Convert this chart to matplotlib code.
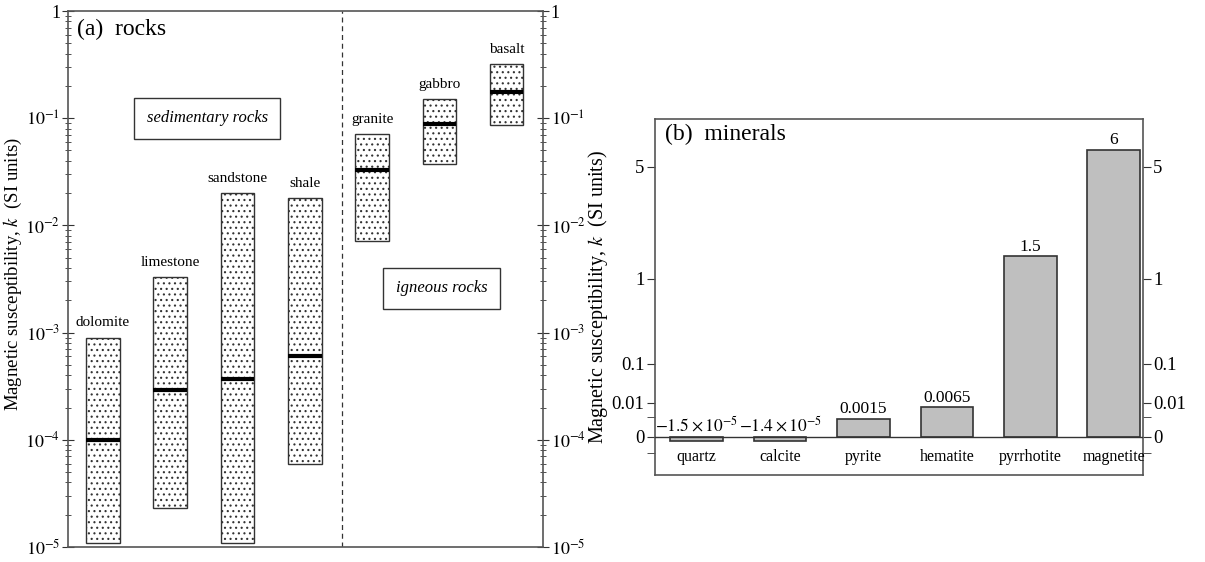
import numpy as np
import matplotlib.pyplot as plt
from matplotlib.ticker import FixedLocator, NullFormatter, FuncFormatter

plt.rcParams['font.family'] = ['Liberation Serif', 'DejaVu Serif']
plt.rcParams['mathtext.fontset'] = 'stix'
plt.rcParams['hatch.linewidth'] = 0.8
plt.rcParams['hatch.color'] = '#6a6a6a'

# (a) rocks: range and typical value of k
rocks = ['dolomite', 'limestone', 'sandstone', 'shale', 'granite', 'gabbro', 'basalt']
k_low = [1.1e-5, 2.3e-5, 1.1e-5, 6e-5, 7.1e-3, 0.037, 0.086]
k_high = [9e-4, 3.3e-3, 0.02, 0.018, 0.071, 0.15, 0.32]
k_typ = [1e-4, 2.9e-4, 3.7e-4, 6e-4, 0.033, 0.088, 0.175]

# (b) minerals
minerals = ['quartz', 'calcite', 'pyrite', 'hematite', 'pyrrhotite', 'magnetite']
k_min = [-1.5e-5, -1.4e-5, 0.0015, 0.0065, 1.5, 6]
k_min_labels = [r'$-1.5\times10^{-5}$', r'$-1.4\times10^{-5}$', '0.0015', '0.0065', '1.5', '6']
b_ticks = [0, 0.01, 0.1, 1, 5]
b_ticklabels = ['0', '0.01', '0.1', '1', '5']

edge = '#333333'
ylab = r'Magnetic susceptibility, $k$  (SI units)'


def log_fmt(v, pos):
    e = int(round(np.log10(v)))
    if e == 0:
        return '1'
    return r'$10^{%d}$' % e


fig = plt.figure(figsize=(12.05, 5.62), dpi=100)

# ---------- panel (a)
ax = fig.add_axes([0.0564, 0.0267, 0.3942, 0.9537])
x = np.arange(1, len(rocks) + 1)
low = np.array(k_low)
high = np.array(k_high)
ax.bar(x, high - low, bottom=low, width=0.5, facecolor='white',
       edgecolor=edge, hatch='...', linewidth=1.0, zorder=2)
ax.hlines(k_typ, x - 0.25, x + 0.25, colors='black', linewidth=3, zorder=3)
for xi, hi, name in zip(x, k_high, rocks):
    ax.annotate(name, (xi, hi), xytext=(0, 6), textcoords='offset points',
                ha='center', va='bottom', fontsize=11)
ax.axvline(4.55, color=edge, linestyle='--', linewidth=0.9, dashes=(4, 3))
ax.set_yscale('log')
ax.set_ylim(1e-5, 1)
ax.set_xlim(0.48, 7.54)
ax.set_xticks([])
ax.yaxis.set_major_formatter(FuncFormatter(log_fmt))
ax.tick_params(axis='y', which='both', direction='inout', right=True,
               labelright=True, labelsize=13, pad=1.5, color='#333333')
ax.tick_params(axis='y', which='major', length=8)
ax.tick_params(axis='y', which='minor', length=4)
ax.set_ylabel(ylab, fontsize=13.5)
ax.yaxis.set_label_coords(-0.092, 0.51)
ax.text(0.02, 0.985, '(a)  rocks', transform=ax.transAxes, va='top',
        ha='left', fontsize=17)
ax.text(2.55, 0.1, 'sedimentary rocks', style='italic', fontsize=12,
        ha='center', va='center',
        bbox=dict(boxstyle='square,pad=0.75', fc='white', ec=edge, lw=1.0))
ax.text(6.03, 2.6e-3, 'igneous rocks', style='italic', fontsize=12,
        ha='center', va='center',
        bbox=dict(boxstyle='square,pad=0.75', fc='white', ec=edge, lw=1.0))
for s in ax.spines.values():
    s.set_color('#555555')
    s.set_linewidth(1.2)

# ---------- panel (b)
ax2 = fig.add_axes([0.5436, 0.1548, 0.4049, 0.6335])
ax2.set_yscale('function', functions=(np.cbrt, lambda v: v ** 3))
xm = np.arange(len(minerals))
ax2.bar(xm, k_min, width=0.63, color='#bfbfbf', edgecolor=edge,
        linewidth=1.2, zorder=2)
ax2.axhline(0, color=edge, linewidth=1.0, zorder=3)
for xi, v, lab in zip(xm, k_min, k_min_labels):
    ax2.annotate(lab, (xi, max(v, 0)), xytext=(0, 1), textcoords='offset points',
                 ha='center', va='bottom', fontsize=12.5)
for xi, name in zip(xm, minerals):
    ax2.annotate(name, (xi, 0), xytext=(0, -9), textcoords='offset points',
                 ha='center', va='top', fontsize=11.5)
ax2.set_xlim(-0.5, 5.35)
ax2.set_ylim(-0.014, 8.15)
ax2.set_xticks([])
ax2.yaxis.set_major_locator(FixedLocator(b_ticks))
ax2.set_yticklabels(b_ticklabels)
ax2.yaxis.set_minor_locator(FixedLocator([-0.001, 0.002]))
ax2.yaxis.set_minor_formatter(NullFormatter())
ax2.tick_params(axis='y', which='both', direction='out', right=True,
                labelright=True, labelsize=13.5, pad=1.5, color='#333333')
ax2.tick_params(axis='y', which='major', length=6)
ax2.tick_params(axis='y', which='minor', length=6)
ax2.set_ylabel(ylab, fontsize=14.5)
ax2.yaxis.set_label_coords(-0.092, 0.5)
ax2.text(0.02, 0.985, '(b)  minerals', transform=ax2.transAxes, va='top',
         ha='left', fontsize=17)
for s in ax2.spines.values():
    s.set_color('#555555')
    s.set_linewidth(1.2)

fig.savefig('out.png', dpi=100)
